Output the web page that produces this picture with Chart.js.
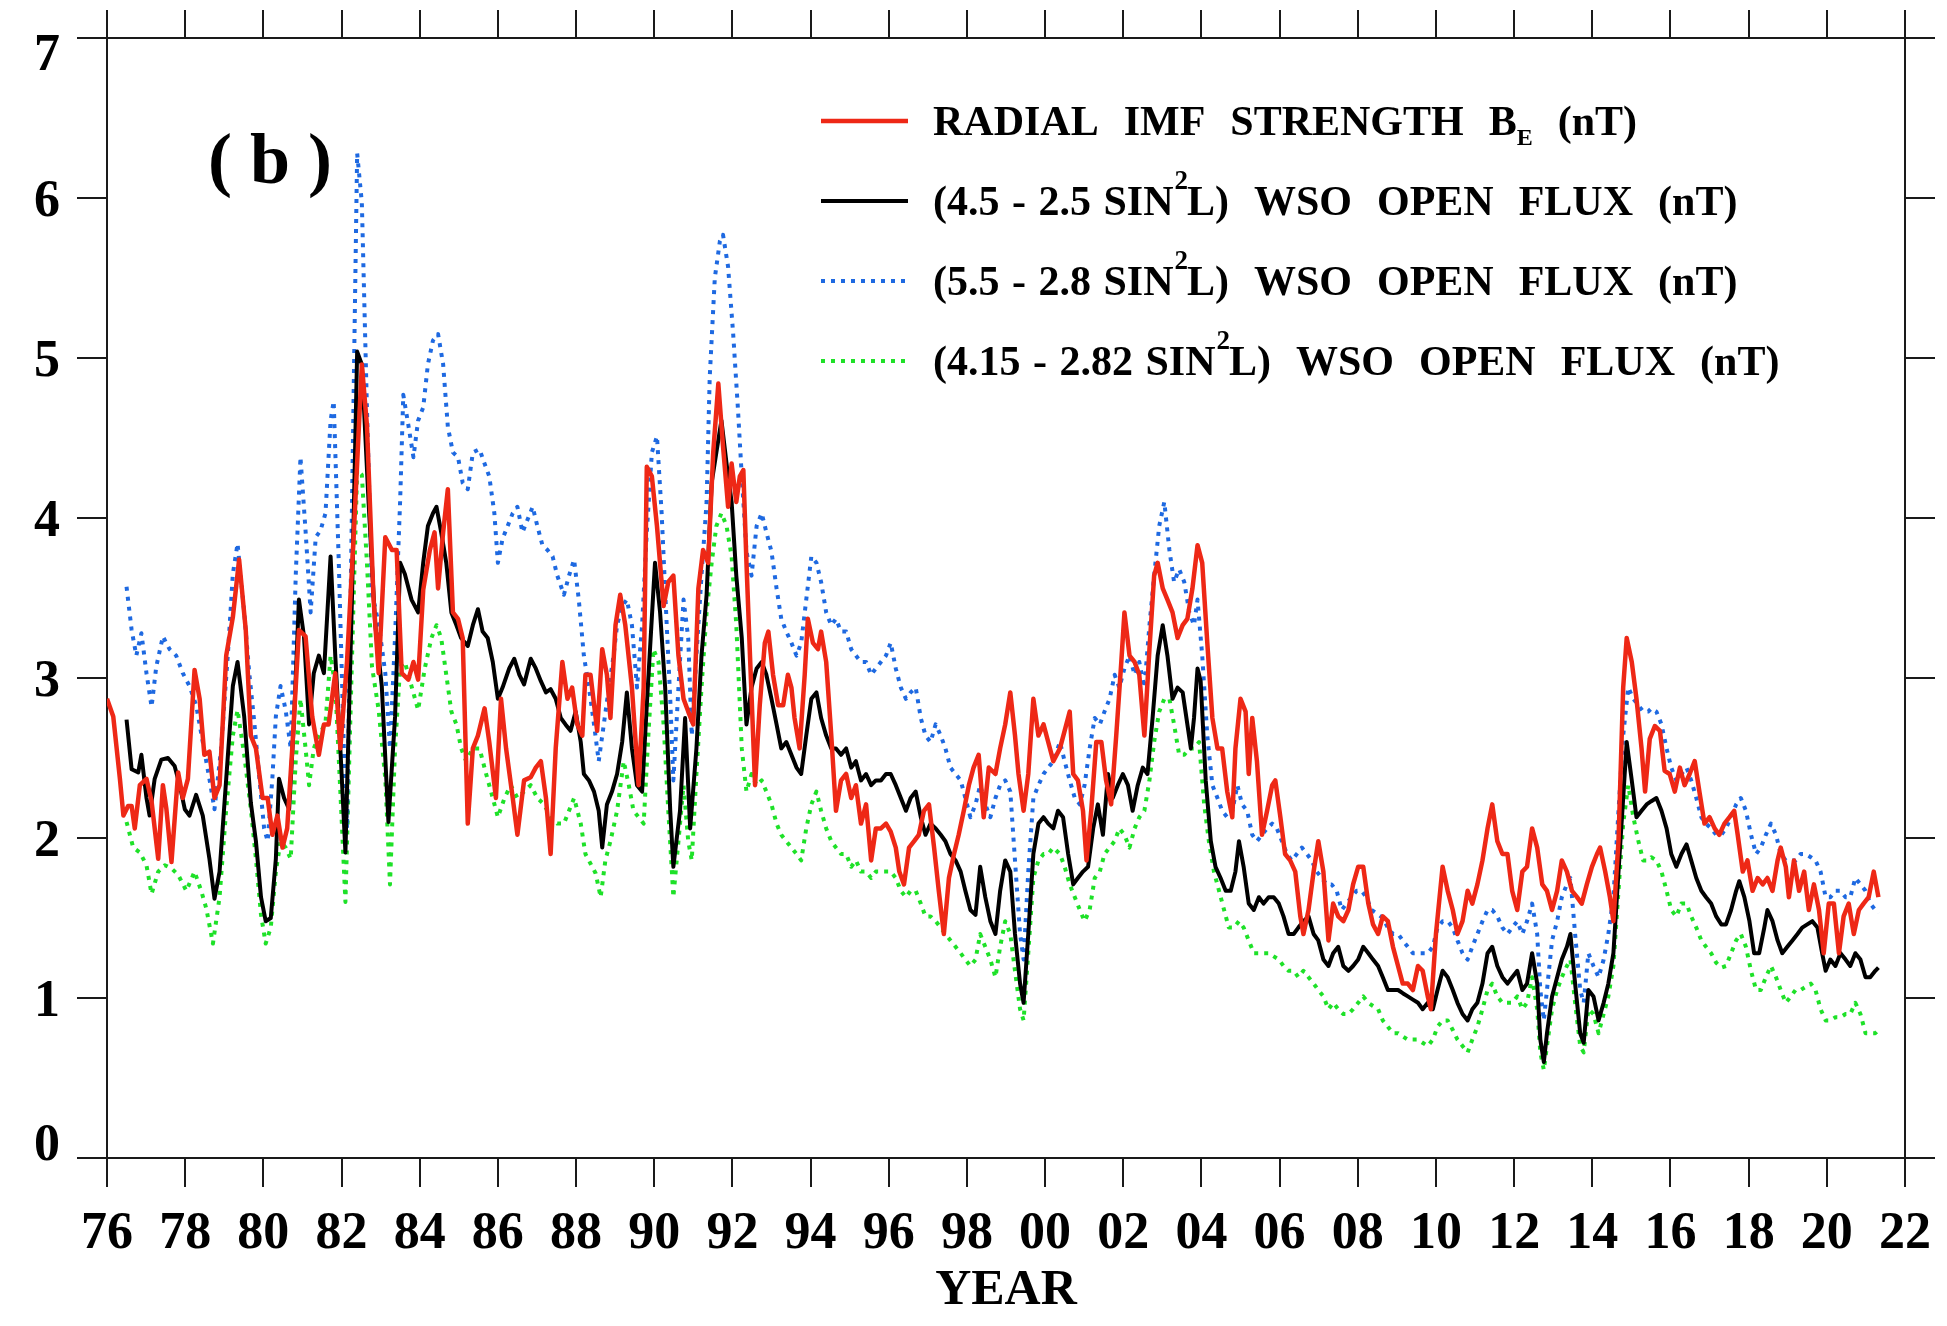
<!DOCTYPE html>
<html>
<head>
<meta charset="utf-8">
<script src="https://cdn.jsdelivr.net/npm/chart.js@4.4.1/dist/chart.umd.min.js"></script>
<style>
html,body{margin:0;padding:0;background:#fff;}
#wrap{width:1947px;height:1326px;}
</style>
</head>
<body>
<div id="wrap"><canvas id="c" width="1947" height="1326"></canvas></div>
<script>
// ---- data (x = years since 1900) ----
const xTickValues = [76,78,80,82,84,86,88,90,92,94,96,98,100,102,104,106,108,110,112,114,116,118,120,122];
const yTickValues = [0,1,2,3,4,5,6,7];
const seriesLabels = [
  'RADIAL IMF STRENGTH B_E (nT)',
  '(4.5 - 2.5 SIN^2L) WSO OPEN FLUX (nT)',
  '(5.5 - 2.8 SIN^2L) WSO OPEN FLUX (nT)',
  '(4.15 - 2.82 SIN^2L) WSO OPEN FLUX (nT)'
];

const radialIMF = [[76.00,2.87],[76.16,2.76],[76.33,2.37],[76.42,2.14],[76.54,2.2],[76.63,2.2],[76.71,2.06],[76.84,2.33],[77.01,2.37],[77.14,2.23],[77.31,1.87],[77.43,2.33],[77.52,2.18],[77.65,1.85],[77.82,2.41],[77.94,2.25],[78.07,2.37],[78.24,3.05],[78.37,2.87],[78.49,2.52],[78.62,2.54],[78.75,2.25],[78.88,2.33],[79.05,3.14],[79.22,3.38],[79.38,3.74],[79.55,3.3],[79.68,2.64],[79.81,2.56],[79.98,2.25],[80.11,2.25],[80.23,2.02],[80.36,2.14],[80.49,1.94],[80.61,2.06],[80.74,2.56],[80.91,3.3],[81.08,3.26],[81.25,2.76],[81.42,2.52],[81.55,2.71],[81.67,2.71],[81.84,3.03],[81.97,2.56],[82.14,3.1],[82.31,3.88],[82.52,4.96],[82.65,4.58],[82.82,3.49],[82.95,3.03],[83.12,3.88],[83.29,3.8],[83.41,3.8],[83.54,3.03],[83.71,2.99],[83.84,3.1],[83.96,2.99],[84.09,3.55],[84.26,3.8],[84.38,3.91],[84.47,3.56],[84.60,3.91],[84.72,4.18],[84.85,3.41],[84.98,3.37],[85.10,3.25],[85.23,2.09],[85.36,2.56],[85.49,2.64],[85.66,2.81],[85.78,2.6],[85.95,2.25],[86.08,2.87],[86.21,2.56],[86.38,2.25],[86.50,2.02],[86.67,2.36],[86.84,2.38],[86.97,2.44],[87.10,2.48],[87.23,2.25],[87.35,1.9],[87.48,2.56],[87.65,3.1],[87.78,2.87],[87.90,2.94],[88.03,2.71],[88.16,2.64],[88.24,3.02],[88.37,3.02],[88.54,2.67],[88.67,3.18],[88.79,3.02],[88.88,2.75],[89.01,3.33],[89.13,3.52],[89.26,3.33],[89.43,2.94],[89.60,2.33],[89.73,2.94],[89.81,4.32],[89.94,4.26],[90.07,3.95],[90.24,3.45],[90.36,3.6],[90.49,3.64],[90.62,3.14],[90.75,2.87],[90.87,2.79],[91.00,2.71],[91.13,3.56],[91.25,3.8],[91.38,3.72],[91.51,4.41],[91.64,4.84],[91.76,4.45],[91.89,4.07],[91.98,4.34],[92.10,4.1],[92.19,4.26],[92.28,4.3],[92.36,3.72],[92.45,3.14],[92.58,2.33],[92.70,2.83],[92.83,3.22],[92.92,3.29],[93.04,3.02],[93.17,2.83],[93.30,2.83],[93.42,3.02],[93.51,2.94],[93.59,2.75],[93.72,2.56],[93.85,3.02],[93.93,3.37],[94.06,3.22],[94.19,3.18],[94.27,3.29],[94.40,3.1],[94.53,2.64],[94.65,2.17],[94.78,2.36],[94.91,2.4],[95.04,2.25],[95.16,2.33],[95.29,2.09],[95.42,2.21],[95.55,1.86],[95.67,2.06],[95.80,2.06],[95.93,2.09],[96.05,2.04],[96.18,1.94],[96.27,1.79],[96.39,1.71],[96.52,1.94],[96.65,1.98],[96.77,2.02],[96.90,2.17],[97.03,2.21],[97.16,1.94],[97.28,1.67],[97.41,1.4],[97.54,1.75],[97.67,1.9],[97.79,2.02],[97.92,2.17],[98.05,2.33],[98.17,2.44],[98.30,2.52],[98.43,2.13],[98.56,2.44],[98.73,2.4],[98.85,2.56],[98.98,2.71],[99.11,2.91],[99.23,2.64],[99.32,2.4],[99.45,2.17],[99.57,2.4],[99.70,2.87],[99.83,2.64],[99.96,2.71],[100.08,2.6],[100.21,2.48],[100.38,2.56],[100.50,2.67],[100.63,2.79],[100.72,2.4],[100.84,2.36],[100.97,2.17],[101.06,1.86],[101.18,2.17],[101.31,2.6],[101.44,2.6],[101.56,2.36],[101.69,2.21],[101.82,2.64],[101.95,3.1],[102.03,3.41],[102.16,3.14],[102.29,3.1],[102.41,3.02],[102.54,2.64],[102.67,3.18],[102.79,3.64],[102.88,3.72],[103.01,3.56],[103.13,3.49],[103.26,3.41],[103.39,3.25],[103.52,3.33],[103.64,3.37],[103.77,3.56],[103.90,3.83],[104.02,3.72],[104.15,3.22],[104.28,2.75],[104.41,2.56],[104.53,2.56],[104.66,2.29],[104.79,2.13],[104.87,2.56],[105.00,2.87],[105.13,2.79],[105.21,2.4],[105.30,2.75],[105.42,2.48],[105.55,2.02],[105.68,2.17],[105.81,2.33],[105.89,2.36],[106.02,2.13],[106.14,1.9],[106.27,1.86],[106.40,1.79],[106.53,1.51],[106.61,1.4],[106.74,1.55],[106.87,1.79],[106.99,1.98],[107.12,1.79],[107.25,1.36],[107.37,1.59],[107.50,1.51],[107.63,1.48],[107.76,1.55],[107.88,1.71],[108.01,1.82],[108.14,1.82],[108.27,1.59],[108.39,1.46],[108.52,1.4],[108.64,1.51],[108.77,1.48],[108.90,1.32],[109.03,1.2],[109.15,1.09],[109.28,1.09],[109.41,1.05],[109.54,1.2],[109.66,1.17],[109.79,1.01],[109.87,0.93],[110.00,1.4],[110.17,1.82],[110.30,1.67],[110.43,1.55],[110.55,1.4],[110.68,1.48],[110.81,1.67],[110.93,1.59],[111.06,1.71],[111.19,1.86],[111.32,2.06],[111.44,2.21],[111.57,1.98],[111.70,1.9],[111.83,1.9],[111.95,1.67],[112.08,1.55],[112.21,1.79],[112.33,1.82],[112.46,2.06],[112.59,1.94],[112.72,1.71],[112.84,1.67],[112.97,1.55],[113.10,1.67],[113.22,1.86],[113.35,1.79],[113.48,1.67],[113.61,1.63],[113.73,1.59],[113.86,1.71],[113.99,1.82],[114.12,1.9],[114.20,1.94],[114.33,1.79],[114.45,1.63],[114.54,1.48],[114.67,1.98],[114.79,2.94],[114.88,3.25],[115.01,3.1],[115.13,2.87],[115.26,2.56],[115.35,2.29],[115.47,2.62],[115.60,2.7],[115.73,2.67],[115.85,2.42],[115.98,2.4],[116.11,2.29],[116.24,2.44],[116.36,2.33],[116.49,2.4],[116.62,2.48],[116.74,2.29],[116.87,2.09],[117.00,2.13],[117.13,2.06],[117.25,2.02],[117.38,2.09],[117.51,2.13],[117.63,2.17],[117.72,2.02],[117.85,1.79],[117.97,1.86],[118.10,1.67],[118.23,1.75],[118.36,1.71],[118.48,1.75],[118.61,1.67],[118.74,1.86],[118.82,1.94],[118.95,1.82],[119.03,1.63],[119.16,1.86],[119.29,1.67],[119.42,1.79],[119.54,1.55],[119.67,1.71],[119.80,1.55],[119.92,1.28],[120.05,1.59],[120.18,1.59],[120.31,1.28],[120.43,1.51],[120.56,1.59],[120.69,1.4],[120.82,1.55],[120.94,1.59],[121.07,1.63],[121.20,1.79],[121.32,1.63]];

const flux45 = [[76.50,2.74],[76.63,2.43],[76.80,2.41],[76.88,2.52],[77.01,2.25],[77.09,2.14],[77.22,2.37],[77.39,2.49],[77.56,2.5],[77.73,2.45],[77.86,2.33],[77.99,2.18],[78.11,2.14],[78.28,2.27],[78.45,2.14],[78.62,1.87],[78.75,1.62],[78.88,1.79],[79.05,2.37],[79.22,2.95],[79.34,3.1],[79.51,2.76],[79.68,2.22],[79.81,1.98],[79.94,1.63],[80.06,1.48],[80.19,1.5],[80.32,1.87],[80.40,2.37],[80.53,2.25],[80.66,2.18],[80.78,2.71],[80.91,3.49],[81.04,3.26],[81.17,2.71],[81.29,3.03],[81.42,3.14],[81.55,3.03],[81.72,3.76],[81.84,3.14],[81.97,2.56],[82.10,1.91],[82.27,3.53],[82.40,5.04],[82.52,4.96],[82.69,4.11],[82.86,3.34],[83.03,2.95],[83.20,2.1],[83.37,2.76],[83.50,3.72],[83.62,3.65],[83.79,3.49],[83.96,3.41],[84.09,3.72],[84.21,3.95],[84.34,4.03],[84.43,4.07],[84.55,3.91],[84.68,3.72],[84.81,3.41],[84.94,3.33],[85.06,3.25],[85.23,3.2],[85.36,3.33],[85.49,3.43],[85.61,3.29],[85.74,3.25],[85.87,3.1],[86.00,2.87],[86.12,2.94],[86.29,3.06],[86.42,3.12],[86.55,3.02],[86.67,2.96],[86.84,3.12],[86.97,3.06],[87.10,2.98],[87.23,2.91],[87.35,2.93],[87.48,2.87],[87.61,2.75],[87.73,2.71],[87.86,2.67],[87.99,2.79],[88.12,2.6],[88.20,2.4],[88.33,2.36],[88.46,2.29],[88.58,2.17],[88.67,1.94],[88.79,2.21],[88.92,2.29],[89.05,2.4],[89.18,2.6],[89.30,2.91],[89.43,2.56],[89.56,2.33],[89.69,2.29],[89.81,2.83],[90.02,3.72],[90.15,3.41],[90.28,2.94],[90.41,2.17],[90.49,1.82],[90.66,2.17],[90.79,2.75],[90.92,2.06],[91.08,2.56],[91.21,3.14],[91.34,3.52],[91.47,4.22],[91.59,4.41],[91.72,4.61],[91.85,4.34],[91.98,4.1],[92.10,3.64],[92.24,3.25],[92.36,2.71],[92.49,2.94],[92.62,3.06],[92.75,3.1],[92.87,3.02],[93.00,2.87],[93.13,2.71],[93.25,2.56],[93.38,2.6],[93.51,2.52],[93.64,2.44],[93.76,2.4],[93.89,2.64],[94.02,2.87],[94.15,2.91],[94.27,2.75],[94.40,2.64],[94.53,2.56],[94.65,2.56],[94.78,2.52],[94.91,2.56],[95.04,2.44],[95.16,2.48],[95.29,2.36],[95.42,2.4],[95.55,2.33],[95.67,2.36],[95.80,2.36],[95.93,2.4],[96.05,2.4],[96.18,2.33],[96.31,2.25],[96.44,2.17],[96.56,2.25],[96.69,2.29],[96.82,2.13],[96.94,2.02],[97.07,2.09],[97.20,2.06],[97.33,2.02],[97.45,1.98],[97.58,1.9],[97.71,1.86],[97.84,1.79],[97.96,1.67],[98.09,1.55],[98.22,1.52],[98.34,1.82],[98.47,1.63],[98.60,1.48],[98.73,1.4],[98.85,1.67],[98.98,1.86],[99.11,1.79],[99.23,1.4],[99.36,1.09],[99.45,0.97],[99.57,1.4],[99.70,1.9],[99.83,2.09],[99.96,2.13],[100.08,2.09],[100.21,2.06],[100.33,2.17],[100.46,2.13],[100.59,1.9],[100.72,1.71],[100.84,1.75],[100.97,1.79],[101.10,1.82],[101.23,2.06],[101.35,2.21],[101.48,2.02],[101.61,2.4],[101.73,2.25],[101.86,2.33],[101.99,2.4],[102.12,2.33],[102.24,2.17],[102.37,2.33],[102.50,2.44],[102.62,2.4],[102.75,2.75],[102.88,3.14],[103.01,3.33],[103.13,3.14],[103.26,2.87],[103.39,2.94],[103.52,2.91],[103.64,2.71],[103.73,2.56],[103.81,2.75],[103.90,3.06],[103.98,2.98],[104.11,2.36],[104.24,1.98],[104.36,1.82],[104.49,1.75],[104.62,1.67],[104.75,1.67],[104.87,1.79],[104.96,1.98],[105.08,1.82],[105.21,1.59],[105.34,1.55],[105.47,1.63],[105.59,1.59],[105.72,1.63],[105.85,1.63],[105.98,1.59],[106.10,1.51],[106.23,1.4],[106.36,1.4],[106.48,1.44],[106.61,1.48],[106.74,1.51],[106.87,1.4],[106.99,1.36],[107.12,1.24],[107.25,1.2],[107.37,1.28],[107.50,1.32],[107.63,1.2],[107.76,1.17],[107.88,1.2],[108.01,1.24],[108.14,1.32],[108.27,1.28],[108.39,1.24],[108.52,1.2],[108.64,1.13],[108.77,1.05],[108.90,1.05],[109.03,1.05],[109.15,1.03],[109.28,1.01],[109.41,0.99],[109.54,0.97],[109.66,0.93],[109.79,0.97],[109.92,0.93],[110.04,1.05],[110.17,1.17],[110.30,1.13],[110.43,1.05],[110.55,0.97],[110.68,0.9],[110.81,0.86],[110.93,0.93],[111.06,0.97],[111.19,1.09],[111.32,1.28],[111.44,1.32],[111.57,1.2],[111.70,1.13],[111.83,1.09],[111.95,1.13],[112.08,1.17],[112.21,1.05],[112.33,1.09],[112.46,1.28],[112.59,1.09],[112.67,0.74],[112.76,0.6],[112.84,0.78],[112.97,1.01],[113.10,1.13],[113.22,1.24],[113.35,1.32],[113.44,1.4],[113.56,1.09],[113.69,0.78],[113.78,0.72],[113.90,1.05],[114.03,1.01],[114.16,0.86],[114.29,0.97],[114.41,1.09],[114.54,1.28],[114.67,1.79],[114.79,2.25],[114.88,2.6],[115.01,2.36],[115.13,2.13],[115.26,2.17],[115.39,2.21],[115.51,2.23],[115.64,2.25],[115.77,2.17],[115.90,2.06],[116.02,1.9],[116.15,1.82],[116.28,1.9],[116.41,1.96],[116.53,1.86],[116.66,1.75],[116.79,1.67],[116.91,1.63],[117.04,1.59],[117.17,1.51],[117.30,1.46],[117.42,1.46],[117.55,1.55],[117.68,1.67],[117.76,1.73],[117.89,1.63],[118.02,1.48],[118.14,1.28],[118.27,1.28],[118.40,1.44],[118.48,1.55],[118.61,1.48],[118.74,1.36],[118.86,1.28],[118.99,1.32],[119.12,1.36],[119.25,1.4],[119.37,1.44],[119.50,1.46],[119.63,1.48],[119.76,1.44],[119.88,1.28],[119.97,1.17],[120.09,1.24],[120.22,1.2],[120.35,1.28],[120.48,1.24],[120.60,1.2],[120.73,1.28],[120.86,1.24],[120.99,1.13],[121.11,1.13],[121.24,1.17],[121.32,1.19]];

const flux55 = [[76.50,3.57],[76.63,3.3],[76.75,3.14],[76.88,3.28],[77.01,3.03],[77.14,2.82],[77.26,3.07],[77.43,3.26],[77.60,3.18],[77.77,3.14],[77.94,3.03],[78.11,2.95],[78.28,2.83],[78.45,2.6],[78.62,2.37],[78.75,2.18],[78.92,2.56],[79.09,3.14],[79.22,3.65],[79.34,3.84],[79.51,3.41],[79.64,3.03],[79.77,2.72],[79.90,2.37],[80.02,2.06],[80.11,1.98],[80.23,2.37],[80.32,2.76],[80.44,2.95],[80.57,2.8],[80.70,2.56],[80.83,3.65],[80.95,4.38],[81.08,3.92],[81.21,3.41],[81.34,3.88],[81.46,3.92],[81.59,4.03],[81.72,4.61],[81.80,4.73],[81.93,3.72],[82.06,2.56],[82.14,2.06],[82.27,4.11],[82.40,6.28],[82.52,5.97],[82.65,4.69],[82.78,3.53],[82.95,3.34],[83.12,3.03],[83.24,2.56],[83.37,3.26],[83.50,4.11],[83.58,4.77],[83.71,4.58],[83.84,4.38],[83.96,4.61],[84.09,4.69],[84.21,4.96],[84.34,5.11],[84.47,5.15],[84.60,4.96],[84.72,4.57],[84.85,4.41],[84.98,4.38],[85.10,4.22],[85.23,4.18],[85.36,4.41],[85.53,4.43],[85.66,4.34],[85.78,4.26],[85.91,4.03],[86.00,3.72],[86.12,3.87],[86.25,3.95],[86.38,4.03],[86.50,4.07],[86.63,3.91],[86.76,3.99],[86.89,4.07],[87.01,3.95],[87.14,3.83],[87.27,3.8],[87.40,3.76],[87.52,3.64],[87.69,3.52],[87.82,3.64],[87.95,3.74],[88.07,3.49],[88.20,3.14],[88.33,2.94],[88.46,2.71],[88.58,2.48],[88.71,2.71],[88.84,2.94],[88.96,3.14],[89.05,3.33],[89.18,3.45],[89.30,3.49],[89.43,3.33],[89.56,2.94],[89.69,3.33],[89.81,3.91],[89.94,4.41],[90.07,4.51],[90.19,4.03],[90.32,3.33],[90.41,2.87],[90.49,2.36],[90.62,2.94],[90.75,3.49],[90.87,3.25],[90.96,2.64],[91.08,3.14],[91.21,3.64],[91.34,4.1],[91.42,4.88],[91.55,5.5],[91.68,5.73],[91.76,5.77],[91.89,5.57],[92.02,5.15],[92.14,4.69],[92.24,4.26],[92.36,3.79],[92.49,3.64],[92.62,3.95],[92.75,4.03],[92.87,3.91],[93.00,3.79],[93.13,3.56],[93.25,3.37],[93.38,3.29],[93.51,3.22],[93.64,3.14],[93.76,3.22],[93.89,3.49],[94.02,3.76],[94.15,3.72],[94.27,3.6],[94.40,3.41],[94.53,3.33],[94.65,3.37],[94.78,3.29],[94.91,3.29],[95.04,3.18],[95.16,3.14],[95.29,3.1],[95.42,3.1],[95.55,3.02],[95.67,3.06],[95.80,3.1],[95.93,3.14],[96.05,3.22],[96.18,3.06],[96.31,2.94],[96.44,2.87],[96.56,2.91],[96.69,2.94],[96.82,2.75],[96.94,2.64],[97.07,2.6],[97.20,2.71],[97.33,2.64],[97.45,2.56],[97.58,2.44],[97.71,2.4],[97.84,2.36],[97.96,2.25],[98.09,2.13],[98.22,2.21],[98.34,2.33],[98.47,2.21],[98.60,2.13],[98.73,2.25],[98.85,2.33],[98.98,2.36],[99.11,2.29],[99.23,1.86],[99.36,1.4],[99.45,1.24],[99.57,1.79],[99.70,2.25],[99.83,2.33],[99.96,2.4],[100.08,2.44],[100.21,2.48],[100.38,2.6],[100.50,2.48],[100.63,2.36],[100.76,2.25],[100.89,2.21],[101.01,2.33],[101.14,2.56],[101.27,2.75],[101.40,2.71],[101.52,2.79],[101.65,2.87],[101.78,3.02],[101.90,2.94],[102.03,3.06],[102.16,3.14],[102.29,3.02],[102.41,3.1],[102.54,2.94],[102.67,3.33],[102.79,3.64],[102.92,3.95],[103.05,4.1],[103.18,3.8],[103.30,3.6],[103.43,3.68],[103.56,3.6],[103.69,3.41],[103.81,3.33],[103.90,3.49],[104.02,3.14],[104.15,2.64],[104.28,2.33],[104.41,2.25],[104.53,2.17],[104.66,2.13],[104.79,2.17],[104.92,2.33],[105.04,2.21],[105.17,2.17],[105.30,2.02],[105.42,1.98],[105.55,2.02],[105.68,2.06],[105.81,2.09],[105.93,2.06],[106.06,1.98],[106.19,1.9],[106.31,1.86],[106.44,1.9],[106.57,1.94],[106.70,1.9],[106.82,1.86],[106.95,1.79],[107.08,1.75],[107.20,1.71],[107.33,1.71],[107.46,1.67],[107.59,1.55],[107.71,1.59],[107.84,1.63],[107.97,1.67],[108.10,1.67],[108.22,1.63],[108.35,1.55],[108.48,1.53],[108.64,1.5],[108.77,1.44],[108.90,1.4],[109.03,1.4],[109.15,1.36],[109.28,1.32],[109.41,1.28],[109.54,1.28],[109.66,1.28],[109.79,1.28],[109.92,1.32],[110.04,1.44],[110.17,1.48],[110.30,1.48],[110.43,1.44],[110.55,1.36],[110.68,1.28],[110.81,1.24],[110.93,1.32],[111.06,1.4],[111.19,1.48],[111.32,1.55],[111.44,1.55],[111.57,1.51],[111.70,1.44],[111.83,1.4],[111.95,1.44],[112.08,1.48],[112.21,1.4],[112.33,1.48],[112.46,1.59],[112.59,1.4],[112.67,1.05],[112.76,0.86],[112.84,1.05],[112.97,1.36],[113.10,1.48],[113.22,1.63],[113.35,1.71],[113.44,1.75],[113.56,1.4],[113.69,1.05],[113.78,0.97],[113.90,1.28],[114.03,1.2],[114.16,1.13],[114.29,1.24],[114.41,1.4],[114.54,1.63],[114.67,2.17],[114.79,2.64],[114.92,2.94],[115.05,2.87],[115.18,2.83],[115.30,2.79],[115.43,2.79],[115.51,2.81],[115.64,2.79],[115.77,2.71],[115.90,2.56],[116.02,2.44],[116.15,2.36],[116.28,2.4],[116.41,2.44],[116.53,2.36],[116.66,2.25],[116.79,2.13],[116.91,2.09],[117.04,2.06],[117.17,2.02],[117.30,2.02],[117.42,2.06],[117.55,2.13],[117.68,2.21],[117.80,2.25],[117.93,2.17],[118.06,2.02],[118.19,1.9],[118.31,1.94],[118.44,2.02],[118.57,2.09],[118.70,2.02],[118.82,1.9],[118.95,1.86],[119.08,1.86],[119.20,1.86],[119.33,1.9],[119.46,1.9],[119.59,1.88],[119.71,1.86],[119.84,1.79],[119.97,1.63],[120.09,1.63],[120.22,1.67],[120.35,1.67],[120.48,1.63],[120.60,1.63],[120.73,1.75],[120.86,1.71],[120.99,1.67],[121.11,1.59],[121.24,1.55],[121.32,1.53]];

const flux415 = [[76.50,2.1],[76.67,1.94],[76.84,1.91],[77.01,1.83],[77.14,1.65],[77.31,1.79],[77.48,1.83],[77.65,1.81],[77.82,1.77],[78.03,1.67],[78.24,1.79],[78.41,1.67],[78.54,1.56],[78.71,1.34],[78.88,1.63],[79.05,2.18],[79.22,2.64],[79.34,2.8],[79.51,2.52],[79.68,2.18],[79.81,1.87],[79.94,1.52],[80.06,1.34],[80.19,1.44],[80.32,1.79],[80.44,1.98],[80.57,1.94],[80.70,1.87],[80.83,2.49],[80.95,2.87],[81.08,2.56],[81.17,2.33],[81.29,2.56],[81.42,2.64],[81.59,2.72],[81.72,3.14],[81.84,2.95],[81.97,2.29],[82.10,1.6],[82.27,3.14],[82.40,4.3],[82.52,4.27],[82.65,3.72],[82.78,3.07],[82.95,2.8],[83.12,2.37],[83.24,1.71],[83.37,2.56],[83.50,3.07],[83.62,3.1],[83.79,2.95],[83.96,2.8],[84.13,3.06],[84.30,3.25],[84.43,3.33],[84.55,3.25],[84.68,3.02],[84.81,2.79],[84.94,2.71],[85.06,2.56],[85.19,2.48],[85.36,2.56],[85.53,2.56],[85.70,2.4],[85.87,2.25],[86.00,2.13],[86.17,2.25],[86.33,2.33],[86.50,2.25],[86.67,2.29],[86.84,2.33],[87.01,2.25],[87.18,2.21],[87.35,2.13],[87.52,2.09],[87.69,2.09],[87.82,2.17],[87.95,2.25],[88.12,2.09],[88.24,1.9],[88.37,1.84],[88.50,1.78],[88.63,1.63],[88.75,1.86],[88.88,1.98],[89.05,2.17],[89.22,2.48],[89.35,2.33],[89.47,2.17],[89.60,2.13],[89.73,2.09],[89.85,2.64],[89.98,3.18],[90.11,3.1],[90.24,2.71],[90.36,2.17],[90.49,1.63],[90.62,1.98],[90.75,2.33],[90.87,1.98],[90.96,1.86],[91.08,2.4],[91.21,2.94],[91.34,3.41],[91.47,3.72],[91.59,3.95],[91.72,4.03],[91.85,3.95],[91.98,3.76],[92.10,3.33],[92.24,2.56],[92.36,2.29],[92.49,2.4],[92.62,2.33],[92.75,2.36],[92.87,2.29],[93.00,2.21],[93.13,2.09],[93.25,2.02],[93.38,1.98],[93.51,1.94],[93.64,1.9],[93.76,1.86],[93.89,2.06],[94.02,2.21],[94.15,2.29],[94.27,2.17],[94.40,2.06],[94.53,1.98],[94.65,1.94],[94.78,1.9],[94.91,1.9],[95.04,1.82],[95.16,1.86],[95.29,1.79],[95.42,1.79],[95.55,1.75],[95.67,1.79],[95.80,1.79],[95.93,1.79],[96.05,1.79],[96.18,1.75],[96.31,1.67],[96.44,1.63],[96.56,1.67],[96.69,1.67],[96.82,1.59],[96.94,1.51],[97.07,1.51],[97.20,1.48],[97.33,1.44],[97.45,1.4],[97.58,1.36],[97.71,1.32],[97.84,1.28],[97.96,1.24],[98.09,1.2],[98.22,1.24],[98.34,1.4],[98.47,1.32],[98.60,1.24],[98.73,1.13],[98.85,1.32],[98.98,1.48],[99.11,1.4],[99.23,1.17],[99.36,0.93],[99.45,0.86],[99.57,1.28],[99.70,1.75],[99.83,1.86],[99.96,1.9],[100.08,1.9],[100.21,1.94],[100.38,1.9],[100.50,1.82],[100.63,1.71],[100.76,1.63],[100.89,1.55],[101.01,1.48],[101.14,1.55],[101.27,1.75],[101.40,1.79],[101.52,1.9],[101.65,1.94],[101.78,1.98],[101.90,2.06],[102.03,2.02],[102.16,1.94],[102.29,2.06],[102.41,2.13],[102.54,2.17],[102.67,2.36],[102.79,2.6],[102.92,2.79],[103.05,2.87],[103.18,2.87],[103.30,2.71],[103.43,2.52],[103.56,2.52],[103.69,2.56],[103.81,2.56],[103.94,2.6],[104.07,2.21],[104.19,1.98],[104.32,1.79],[104.45,1.67],[104.58,1.55],[104.70,1.44],[104.83,1.44],[104.96,1.48],[105.08,1.44],[105.21,1.36],[105.34,1.28],[105.47,1.28],[105.59,1.28],[105.72,1.28],[105.85,1.26],[105.98,1.24],[106.10,1.2],[106.23,1.17],[106.36,1.17],[106.48,1.13],[106.61,1.17],[106.74,1.13],[106.87,1.09],[106.99,1.05],[107.12,1.01],[107.25,0.93],[107.37,0.97],[107.50,0.93],[107.63,0.9],[107.76,0.9],[107.88,0.93],[108.01,0.97],[108.14,1.01],[108.27,0.97],[108.39,0.95],[108.52,0.93],[108.64,0.86],[108.77,0.82],[108.90,0.78],[109.03,0.78],[109.15,0.76],[109.28,0.74],[109.41,0.74],[109.54,0.74],[109.66,0.72],[109.79,0.7],[109.92,0.74],[110.04,0.82],[110.17,0.86],[110.30,0.86],[110.43,0.8],[110.55,0.74],[110.68,0.7],[110.81,0.66],[110.93,0.74],[111.06,0.82],[111.19,0.93],[111.32,1.05],[111.44,1.09],[111.57,1.01],[111.70,0.97],[111.83,0.97],[111.95,0.97],[112.08,1.01],[112.21,0.93],[112.33,0.97],[112.46,1.13],[112.59,0.93],[112.67,0.66],[112.76,0.55],[112.84,0.7],[112.97,0.93],[113.10,1.05],[113.22,1.13],[113.35,1.2],[113.44,1.24],[113.56,0.97],[113.69,0.7],[113.78,0.66],[113.90,0.93],[114.03,0.9],[114.16,0.78],[114.29,0.9],[114.41,1.01],[114.54,1.2],[114.67,1.67],[114.79,2.09],[114.92,2.33],[115.05,2.13],[115.18,1.98],[115.30,1.86],[115.43,1.86],[115.51,1.88],[115.64,1.86],[115.77,1.79],[115.90,1.67],[116.02,1.55],[116.15,1.51],[116.28,1.59],[116.41,1.59],[116.53,1.51],[116.66,1.44],[116.79,1.36],[116.91,1.32],[117.04,1.28],[117.17,1.22],[117.30,1.19],[117.42,1.2],[117.55,1.28],[117.68,1.36],[117.80,1.4],[117.93,1.32],[118.06,1.17],[118.19,1.05],[118.31,1.05],[118.44,1.13],[118.57,1.2],[118.70,1.13],[118.82,1.05],[118.95,0.97],[119.08,1.01],[119.20,1.05],[119.33,1.05],[119.46,1.07],[119.59,1.09],[119.71,1.05],[119.84,0.93],[119.97,0.86],[120.09,0.86],[120.22,0.88],[120.35,0.88],[120.48,0.9],[120.60,0.9],[120.73,0.97],[120.86,0.9],[120.99,0.78],[121.11,0.78],[121.24,0.78],[121.32,0.8]];

// ---- styles ----
const FONT = '"Liberation Serif", "Times New Roman", Times, serif';
const AXIS_COLOR = '#1a1a1a';
const COLORS = ['rgb(238,40,22)', '#000000', 'rgb(30,105,225)', 'rgb(30,225,40)'];
const WIDTHS = [4.5, 4, 4, 4];
const DASHES = [[], [], [4, 6], [4, 6]];
const seriesData = [radialIMF, flux45, flux55, flux415];

function xLabel(v) { return String(Math.round(v) % 100).padStart(2, '0'); }

const overlayPlugin = {
  id: 'overlay',
  afterDraw(chart) {
    const ctx = chart.ctx;
    const ys = chart.scales.y;
    ctx.save();
    // y tick labels
    ctx.font = 'bold 52px ' + FONT;
    ctx.fillStyle = '#000';
    ctx.textAlign = 'right';
    ctx.textBaseline = 'alphabetic';
    ys.ticks.forEach(t => {
      let py = ys.getPixelForValue(t.value);
      let off = 18;
      if (t.value === ys.max) off = 32;
      if (t.value === ys.min) off = 2;
      ctx.fillText(String(t.value), 60, py + off);
    });
    // panel label
    ctx.font = 'bold 72px ' + FONT;
    ctx.textAlign = 'center';
    ctx.fillText('( b )', 270, 183);
    // legend
    const parts = [
      [{t: 'RADIAL  IMF  STRENGTH  B'}, {t: 'E', sub: true}, {t: '  (nT)'}],
      [{t: '(4.5 - 2.5 SIN'}, {t: '2', sup: true}, {t: 'L)  WSO  OPEN  FLUX  (nT)'}],
      [{t: '(5.5 - 2.8 SIN'}, {t: '2', sup: true}, {t: 'L)  WSO  OPEN  FLUX  (nT)'}],
      [{t: '(4.15 - 2.82 SIN'}, {t: '2', sup: true}, {t: 'L)  WSO  OPEN  FLUX  (nT)'}]
    ];
    ctx.textAlign = 'left';
    if ('wordSpacing' in ctx) ctx.wordSpacing = '2px';
    parts.forEach((segs, i) => {
      const ly = 121 + 80 * i;
      ctx.save();
      ctx.strokeStyle = COLORS[i];
      ctx.lineWidth = WIDTHS[i];
      ctx.setLineDash(DASHES[i]);
      ctx.beginPath();
      ctx.moveTo(821, ly);
      ctx.lineTo(908, ly);
      ctx.stroke();
      ctx.restore();
      let x = 933;
      const base = ly + 14;
      segs.forEach(s => {
        if (s.sub) { ctx.font = 'bold 24px ' + FONT; ctx.fillText(s.t, x, base + 10); }
        else if (s.sup) { ctx.font = 'bold 27px ' + FONT; ctx.fillText(s.t, x + 1, base - 26); }
        else { ctx.font = 'bold 42px ' + FONT; ctx.fillText(s.t, x, base); }
        x += ctx.measureText(s.t).width;
      });
    });
    ctx.restore();
  }
};

const gridOpts = (len) => ({ drawOnChartArea: false, drawTicks: true, tickLength: len, color: AXIS_COLOR, lineWidth: 2 });
const borderOpts = { display: true, color: AXIS_COLOR, width: 2 };

new Chart(document.getElementById('c').getContext('2d'), {
  type: 'line',
  data: {
    datasets: seriesData.map((arr, i) => ({
      label: seriesLabels[i],
      data: arr.map(p => ({x: p[0], y: p[1]})),
      borderColor: COLORS[i],
      borderWidth: WIDTHS[i],
      borderDash: DASHES[i],
      borderCapStyle: 'butt',
      borderJoinStyle: 'round',
      pointRadius: 0,
      tension: 0,
      fill: false
    }))
  },
  options: {
    responsive: false,
    animation: false,
    layout: { padding: 0 },
    plugins: { legend: { display: false }, tooltip: { enabled: false } },
    scales: {
      x: {
        type: 'linear', position: 'bottom', min: 76, max: 122,
        afterFit: s => { s.height = 168; },
        afterBuildTicks: s => { s.ticks = xTickValues.map(v => ({value: v})); },
        ticks: { autoSkip: false, maxRotation: 0, padding: 16, color: '#000',
                 font: { family: FONT, size: 52, weight: 'bold', lineHeight: 1.2 },
                 callback: v => xLabel(v) },
        grid: gridOpts(29), border: borderOpts,
        title: { display: true, text: 'YEAR', color: '#000',
                 font: { family: FONT, size: 50, weight: 'bold', lineHeight: 1.2 },
                 padding: { top: 0, bottom: 5 } }
      },
      x2: {
        type: 'linear', position: 'top', min: 76, max: 122,
        afterFit: s => { s.height = 38; },
        afterBuildTicks: s => { s.ticks = xTickValues.map(v => ({value: v})); },
        ticks: { display: false },
        grid: gridOpts(28), border: borderOpts
      },
      y: {
        type: 'linear', position: 'left', min: 0, max: 7,
        afterFit: s => { s.width = 107; },
        afterBuildTicks: s => { s.ticks = yTickValues.map(v => ({value: v})); },
        ticks: { display: false },
        grid: gridOpts(30), border: borderOpts
      },
      y2: {
        type: 'linear', position: 'right', min: 0, max: 7,
        afterFit: s => { s.width = 32; },
        afterBuildTicks: s => { s.ticks = yTickValues.map(v => ({value: v})); },
        ticks: { display: false },
        grid: gridOpts(30), border: borderOpts
      }
    }
  },
  plugins: [overlayPlugin]
});
</script>
</body>
</html>
